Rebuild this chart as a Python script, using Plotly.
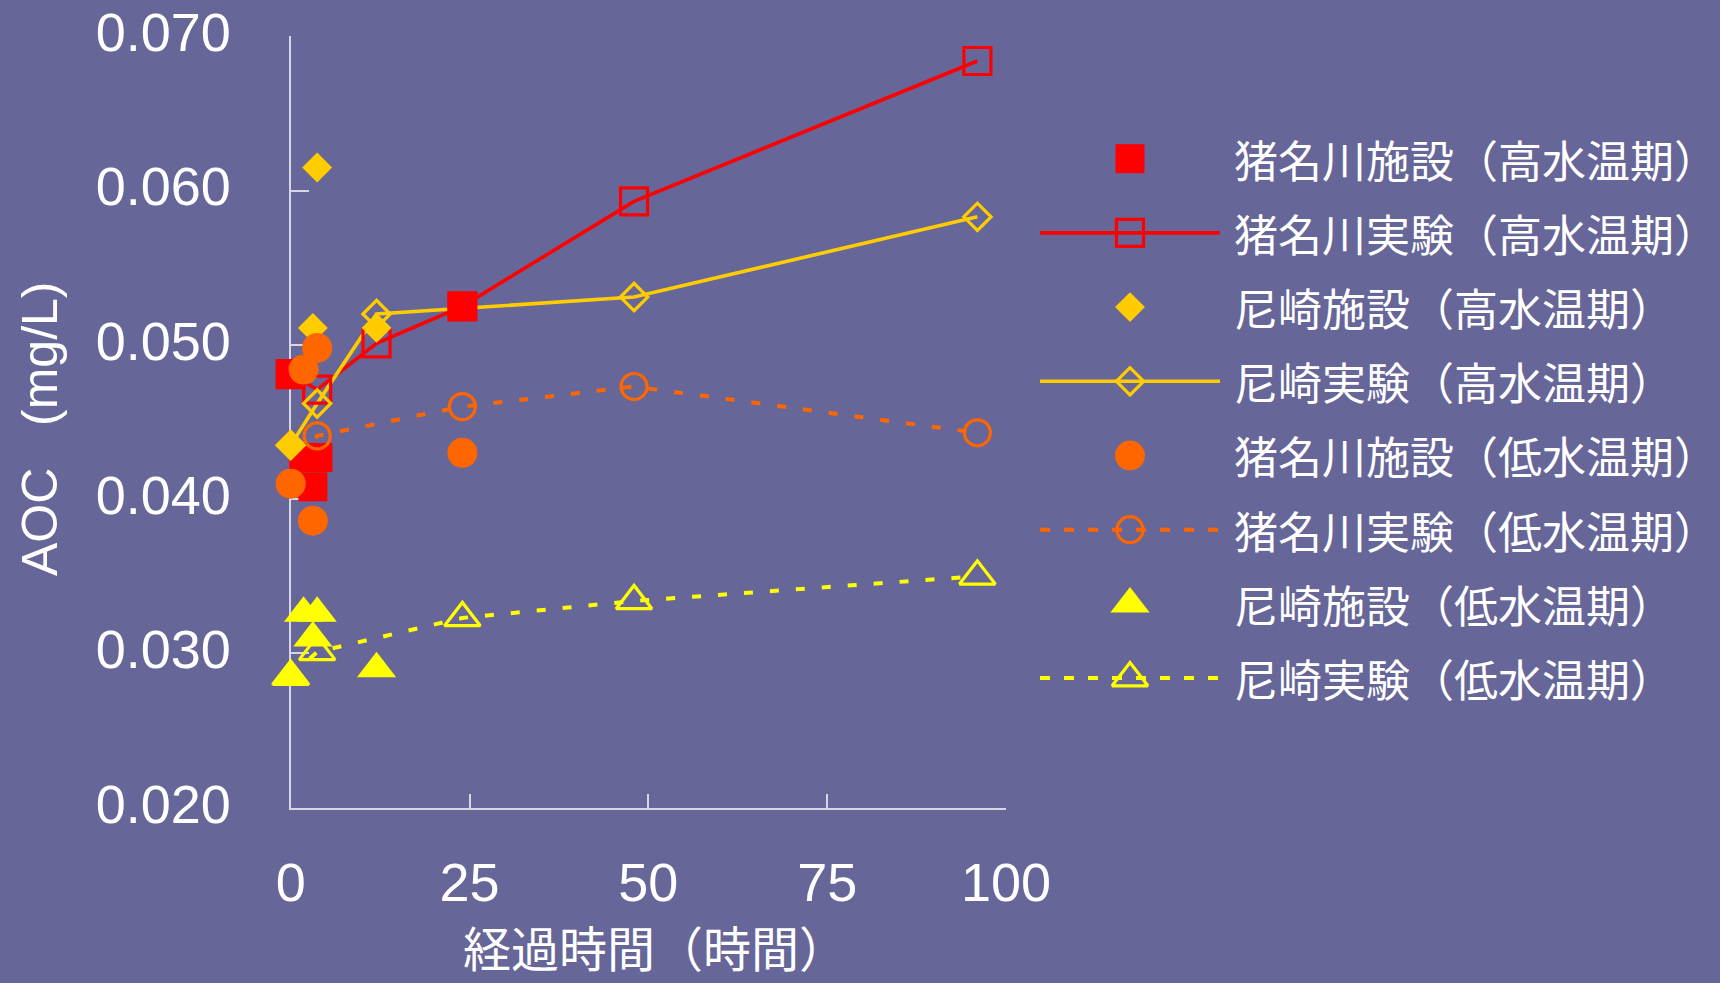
import plotly.graph_objects as go

# Elapsed time (h) and AOC (mg/L) for each series
ina_fac_hi_t = [0, 1.8, 3.1, 3.8, 24]
ina_fac_hi_v = [0.0481, 0.0427, 0.0408, 0.0427, 0.0525]

ina_exp_hi_t = [0, 3.7, 12, 24, 48, 96]
ina_exp_hi_v = [0.0481, 0.0471, 0.0501, 0.0525, 0.0593, 0.0684]

ama_fac_hi_t = [0, 3.1, 3.7, 12]
ama_fac_hi_v = [0.0435, 0.0511, 0.0615, 0.0511]

ama_exp_hi_t = [0, 3.7, 12, 48, 96]
ama_exp_hi_v = [0.0435, 0.0462, 0.0520, 0.0531, 0.0583]

ina_fac_lo_t = [0, 1.8, 3.1, 3.7, 24]
ina_fac_lo_v = [0.0410, 0.0484, 0.0386, 0.0498, 0.0430]

ina_exp_lo_t = [0, 3.7, 24, 48, 96]
ina_exp_lo_v = [0.0410, 0.0441, 0.0460, 0.0473, 0.0443]

ama_fac_lo_t = [0, 1.8, 3.1, 3.7, 12]
ama_fac_lo_v = [0.0285, 0.0326, 0.0310, 0.0326, 0.0290]

ama_exp_lo_t = [0, 3.7, 24, 48, 96]
ama_exp_lo_v = [0.0285, 0.0301, 0.0323, 0.0334, 0.0350]

series_names = [
    "猪名川施設（高水温期）",
    "猪名川実験（高水温期）",
    "尼崎施設（高水温期）",
    "尼崎実験（高水温期）",
    "猪名川施設（低水温期）",
    "猪名川実験（低水温期）",
    "尼崎施設（低水温期）",
    "尼崎実験（低水温期）",
]

y_ticks = [0.020, 0.030, 0.040, 0.050, 0.060, 0.070]
x_ticks = [0, 25, 50, 75, 100]

x_title = "経過時間（時間）"
y_title = "AOC\u00a0\u00a0\u00a0(mg/L)"

# ---- styling ----
W, H = 1720, 983
BG = "#666699"
AXIS = "#d6d6e4"
RED, GOLD, ORANGE, YELLOW = "#ff0000", "#ffcc00", "#ff6600", "#ffff00"
LATIN = "Liberation Sans, Arial, Noto Sans CJK JP"
CJK = "Noto Sans CJK JP"
DOT = "9px,17px"

# plot area in pixels
PL, PR, PT, PB = 290.7, 1006.0, 36.3, 807.7

styles = [
    dict(t=ina_fac_hi_t, v=ina_fac_hi_v, color=RED, symbol="square", size=29, lw=0, dash=None),
    dict(t=ina_exp_hi_t, v=ina_exp_hi_v, color=RED, symbol="square-open", size=27, lw=3.2, dash="solid"),
    dict(t=ama_fac_hi_t, v=ama_fac_hi_v, color=GOLD, symbol="diamond", size=23, lw=0, dash=None),
    dict(t=ama_exp_hi_t, v=ama_exp_hi_v, color=GOLD, symbol="diamond-open", size=21, lw=3.2, dash="solid"),
    dict(t=ina_fac_lo_t, v=ina_fac_lo_v, color=ORANGE, symbol="circle", size=30, lw=0, dash=None),
    dict(t=ina_exp_lo_t, v=ina_exp_lo_v, color=ORANGE, symbol="circle-open", size=26, lw=3.2, dash=DOT),
    dict(t=ama_fac_lo_t, v=ama_fac_lo_v, color=YELLOW, symbol="triangle-up", size=34, lw=0, dash=None),
    dict(t=ama_exp_lo_t, v=ama_exp_lo_v, color=YELLOW, symbol="triangle-up-open", size=31, lw=3.2, dash=DOT),
]

fig = go.Figure()

# connecting lines of the experiment series sit below every marker
for s in styles:
    if s["dash"] is None:
        continue
    fig.add_trace(go.Scatter(
        x=s["t"], y=s["v"], mode="lines",
        line=dict(color=s["color"], width=4 if s["dash"] != "solid" else 3.6, dash=s["dash"]),
        cliponaxis=False, showlegend=False, hoverinfo="skip",
    ))

# markers
for s, name in zip(styles, series_names):
    fig.add_trace(go.Scatter(
        x=s["t"], y=s["v"], mode="markers", name=name,
        marker=dict(symbol=s["symbol"], size=s["size"], color=s["color"],
                    line=dict(color=s["color"], width=s["lw"])),
        cliponaxis=False, showlegend=False,
    ))

# legend block drawn on its own pixel-scaled axes
ROW0, ROW_STEP = 158.7, 74.2
annotations = []
for i, (s, name) in enumerate(zip(styles, series_names)):
    row = ROW0 + i * ROW_STEP
    if s["dash"] is not None:
        fig.add_trace(go.Scatter(
            x=[0, 1], y=[row, row], mode="lines", xaxis="x2", yaxis="y2",
            line=dict(color=s["color"], width=4 if s["dash"] != "solid" else 3.6,
                      dash="10px,14px" if s["dash"] != "solid" else "solid"),
            showlegend=False, hoverinfo="skip", cliponaxis=False,
        ))
    fig.add_trace(go.Scatter(
        x=[0.5], y=[row], mode="markers", xaxis="x2", yaxis="y2",
        marker=dict(symbol=s["symbol"], size=s["size"], color=s["color"],
                    line=dict(color=s["color"], width=s["lw"])),
        showlegend=False, hoverinfo="skip", cliponaxis=False,
    ))
    annotations.append(dict(
        text=name, xref="paper", yref="paper",
        x=1232 / W, y=1 - row / H, xanchor="left", yanchor="middle",
        showarrow=False, font=dict(family=CJK, size=44, color="white"),
    ))

annotations.append(dict(
    text=x_title, xref="paper", yref="paper", x=655 / W, y=0,
    xanchor="center", yanchor="bottom", showarrow=False,
    font=dict(family=CJK, size=48, color="white"),
))
annotations.append(dict(
    text=y_title, xref="paper", yref="paper", x=40 / W, y=1 - 429 / H,
    xanchor="center", yanchor="middle", showarrow=False, textangle=-90,
    font=dict(family=LATIN, size=50, color="white"),
))

fig.update_layout(
    width=W, height=H,
    margin=dict(l=0, r=0, t=0, b=0, autoexpand=False),
    paper_bgcolor=BG, plot_bgcolor=BG,
    showlegend=False,
    annotations=annotations,
    xaxis=dict(
        domain=[PL / W, PR / W], range=[0, 100],
        tickvals=x_ticks, ticktext=[str(v) for v in x_ticks],
        showline=True, linecolor=AXIS, linewidth=2,
        ticks="inside", ticklen=14, tickwidth=2, tickcolor=AXIS,
        showgrid=False, zeroline=False, layer="below traces",
        tickfont=dict(family=LATIN, size=54, color="white"),
        ticklabelstandoff=26, automargin=False,
    ),
    yaxis=dict(
        domain=[1 - PB / H, 1 - PT / H], range=[0.020, 0.070],
        tickvals=y_ticks, ticktext=[f"{v:.3f}" for v in y_ticks],
        showline=True, linecolor=AXIS, linewidth=2,
        ticks="inside", ticklen=18, tickwidth=2, tickcolor=AXIS,
        showgrid=False, zeroline=False, layer="below traces",
        tickfont=dict(family=LATIN, size=54, color="white"),
        ticklabelstandoff=47, ticklabelshift=-4, automargin=False,
    ),
    xaxis2=dict(domain=[1040 / W, 1220 / W], range=[0, 1], visible=False,
                anchor="y2", fixedrange=True, automargin=False),
    yaxis2=dict(domain=[0, 1], range=[H, 0], visible=False,
                anchor="x2", fixedrange=True, automargin=False),
)

fig.write_html("out.html")
